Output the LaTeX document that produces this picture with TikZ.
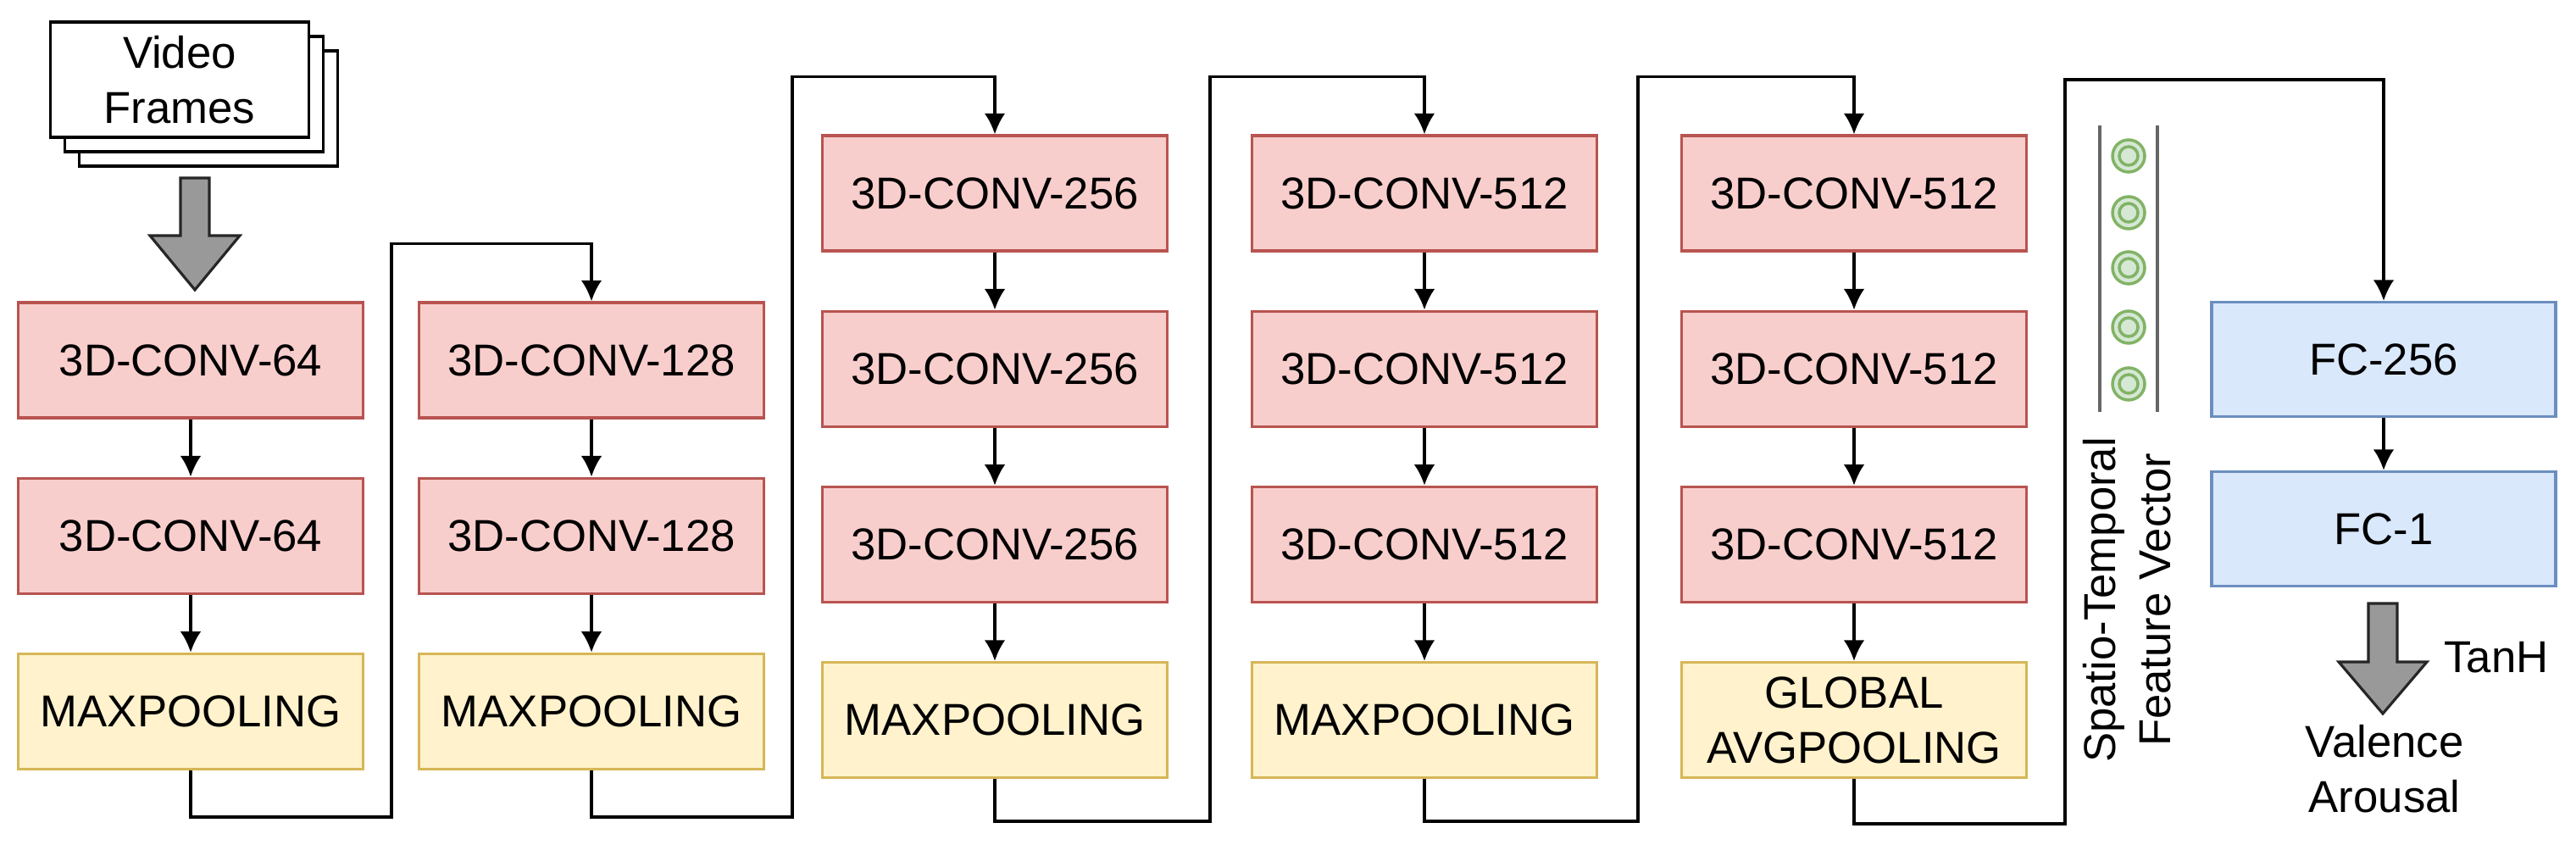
\documentclass[tikz,border=0pt]{standalone}
\usepackage{fontspec}
\setmainfont{Liberation Sans}
\usetikzlibrary{arrows.meta,positioning,calc}
\definecolor{convred}{HTML}{F8CECC}
\definecolor{convredline}{HTML}{B85450}
\definecolor{poolyellow}{HTML}{FFF2CC}
\definecolor{poolyellowline}{HTML}{D6B656}
\definecolor{fcblue}{HTML}{DAE8FC}
\definecolor{fcblueline}{HTML}{6C8EBF}
\definecolor{featgreen}{HTML}{D5E8D4}
\definecolor{featgreenline}{HTML}{82B366}
\definecolor{bigarrowgray}{HTML}{999999}
% fat down arrow: x, shaft top, head top, tip, head half width
\newcommand{\fatdownarrow}[5]{%
  \draw[draw=black!85, line width=0.9pt, fill=bigarrowgray, line join=miter]
    (#1-0.17,#2) -- (#1-0.17,#3) -- (#1-#5,#3) -- (#1,#4) -- (#1+#5,#3)
    -- (#1+0.17,#3) -- (#1+0.17,#2) -- cycle;}

\begin{document}
\begin{tikzpicture}[
  layer/.style={draw, line width=0.9pt, align=center, font=\fontsize{15}{18.5}\selectfont,
                minimum width=4.07cm, minimum height=1.36cm, inner sep=0pt},
  convbox/.style={layer, fill=convred, draw=convredline},
  poolbox/.style={layer, fill=poolyellow, draw=poolyellowline},
  fcbox/.style={layer, fill=fcblue, draw=fcblueline, minimum width=4.06cm, minimum height=1.35cm},
  framebox/.style={draw, line width=1pt, fill=white, minimum width=3.05cm, minimum height=1.36cm,
                   align=center, font=\fontsize{15}{18.5}\selectfont},
  arr/.style={-{Latex[length=7pt,width=7pt]}, line width=0.9pt},
  lbl/.style={font=\fontsize{15}{18.5}\selectfont, align=center},
  node distance=0.68cm
]
\useasboundingbox (0,0) rectangle (30.4,9.96);

% input frames
\node[framebox] (fr3) at (2.46,8.68) {};
\node[framebox] (fr2) at (2.29,8.85) {};
\node[framebox] (fr1) at (2.12,9.02) {Video\\Frames};
\fatdownarrow{2.30}{7.86}{7.18}{6.54}{0.53}

% block 1
\node[convbox] (c11) at (2.25,5.71) {3D-CONV-64};
\node[convbox, below=of c11] (c12) {3D-CONV-64};
\node[poolbox, below=of c12] (p1) {MAXPOOLING};
% block 2
\node[convbox] (c21) at (6.98,5.71) {3D-CONV-128};
\node[convbox, below=of c21] (c22) {3D-CONV-128};
\node[poolbox, below=of c22] (p2) {MAXPOOLING};
% block 3
\node[convbox] (c31) at (11.74,7.68) {3D-CONV-256};
\node[convbox, below=of c31] (c32) {3D-CONV-256};
\node[convbox, below=of c32] (c33) {3D-CONV-256};
\node[poolbox, below=of c33] (p3) {MAXPOOLING};
% block 4
\node[convbox] (c41) at (16.81,7.68) {3D-CONV-512};
\node[convbox, below=of c41] (c42) {3D-CONV-512};
\node[convbox, below=of c42] (c43) {3D-CONV-512};
\node[poolbox, below=of c43] (p4) {MAXPOOLING};
% block 5
\node[convbox] (c51) at (21.88,7.68) {3D-CONV-512};
\node[convbox, below=of c51] (c52) {3D-CONV-512};
\node[convbox, below=of c52] (c53) {3D-CONV-512};
\node[poolbox, below=of c53] (p5) {GLOBAL\\AVGPOOLING};

% feature vector
\draw[line width=1.2pt, black!60] (24.78,8.48) -- (24.78,5.10);
\draw[line width=1.2pt, black!60] (25.46,8.48) -- (25.46,5.10);
\foreach \y [count=\i] in {8.12,7.45,6.80,6.10,5.43}{
  \node[circle, draw=featgreenline, fill=featgreen, line width=1pt, minimum size=0.38cm, inner sep=0pt] (fv\i) at (25.12,\y) {};
  \draw[featgreenline, line width=1pt] (fv\i.center) circle (0.11cm);
}
\node[lbl, rotate=90] (fvlbl) at (25.10,2.88) {Spatio-Temporal\\Feature Vector};

% head
\node[fcbox] (fc1) at (28.13,5.72) {FC-256};
\node[fcbox] (fc2) at (28.13,3.72) {FC-1};
\fatdownarrow{28.12}{2.84}{2.15}{1.54}{0.52}
\node[lbl] (tanh) at (29.46,2.20) {TanH};
\node[lbl] (va) at (28.14,0.89) {Valence\\Arousal};

% links inside blocks
\foreach \a/\b in {c11/c12,c12/p1,c21/c22,c22/p2,c31/c32,c32/c33,c33/p3,
                   c41/c42,c42/c43,c43/p4,c51/c52,c52/c53,c53/p5,fc1/fc2}
  \draw[arr] (\a) -- (\b);

% links between blocks
\coordinate (t2) at ($(c21.north)+(0,0.68)$);
\coordinate (t3) at ($(c31.north)+(0,0.68)$);
\coordinate (t4) at ($(c41.north)+(0,0.68)$);
\coordinate (t5) at ($(c51.north)+(0,0.68)$);
\coordinate (t6) at (28.13,9.02);
\draw[arr] (p1.south) |- (4.62,0.32) |- (t2) -- (c21.north);
\draw[arr] (p2.south) |- (9.35,0.32) |- (t3) -- (c31.north);
\draw[arr] (p3.south) |- (14.28,0.27) |- (t4) -- (c41.north);
\draw[arr] (p4.south) |- (19.33,0.27) |- (t5) -- (c51.north);
\draw[arr] (p5.south) |- (24.37,0.24) |- (t6) -- (fc1.north);
\end{tikzpicture}
\end{document}
